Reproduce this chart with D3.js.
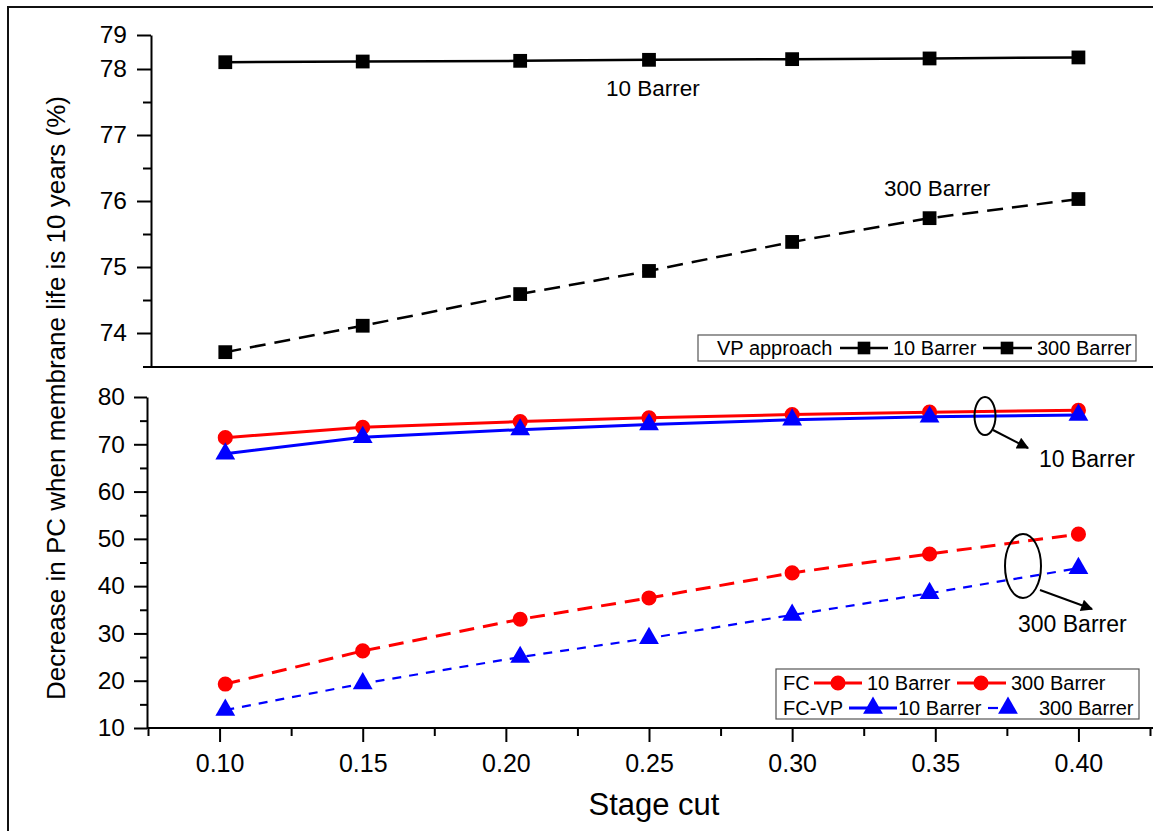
<!DOCTYPE html>
<html>
<head>
<meta charset="utf-8">
<script src="https://cdn.jsdelivr.net/npm/d3@7/dist/d3.min.js"></script>
<style>
body { margin: 0; background: #fff; }
svg text { font-family: 'Liberation Sans', Arial, sans-serif; fill: #000; }
</style>
</head>
<body>
<div id="chart"></div>
<script>
'use strict';

// stage cut values (x) and the series
var stageCut = [0.102, 0.15, 0.205, 0.25, 0.30, 0.348, 0.40];
var vp10 = [78.20, 78.22, 78.24, 78.27, 78.29, 78.31, 78.34];
var vp300 = [73.71, 74.11, 74.59, 74.94, 75.38, 75.74, 76.03];
var fc10 = [71.4, 73.6, 74.8, 75.6, 76.3, 76.8, 77.2];
var fc300 = [19.3, 26.3, 33.0, 37.5, 42.8, 46.8, 51.0];
var fcvp10 = [68.0, 71.5, 73.1, 74.2, 75.2, 75.8, 76.2];
var fcvp300 = [13.8, 19.4, 25.0, 29.0, 33.9, 38.5, 43.8];

// ticks
var xTicks = [0.10, 0.15, 0.20, 0.25, 0.30, 0.35, 0.40];
var xMinor = [0.075, 0.125, 0.175, 0.225, 0.275, 0.325, 0.375, 0.425];
var topTicks = [74, 75, 76, 77, 78, 79];
var topMinor = [74.5, 75.5, 76.5, 77.5];
var botTicks = [10, 20, 30, 40, 50, 60, 70, 80];
var botMinor = [15, 25, 35, 45, 55, 65, 75];

var W = 1156, H = 831;

var svg = d3.select('#chart').append('svg')
	.attr('width', W)
	.attr('height', H);

svg.append('rect').attr('width', W).attr('height', H).attr('fill', '#fff');

// arrow head
svg.append('defs').append('marker')
	.attr('id', 'arrow')
	.attr('viewBox', '0 0 10 10')
	.attr('refX', 9).attr('refY', 5)
	.attr('markerWidth', 9).attr('markerHeight', 6)
	.attr('markerUnits', 'strokeWidth')
	.attr('orient', 'auto')
	.append('path').attr('d', 'M0,0L10,5L0,10Z').attr('fill', '#000');

// outer frame (top + left edges only visible)
svg.append('path')
	.attr('d', 'M8,831V7H1153')
	.attr('fill', 'none').attr('stroke', '#111').attr('stroke-width', 2);

var x = d3.scaleLinear().domain([0.075, 0.425]).range([148, 1150]);
var yTop = d3.scaleLinear().domain([73.485, 78, 79]).range([367, 69, 35]);
var yBot = d3.scaleLinear().domain([10, 80]).range([728, 397]);

function styleAxis(g, fs) {
	g.selectAll('path, line').attr('stroke', '#000').attr('stroke-width', 2);
	g.selectAll('text').attr('font-size', fs || 24).attr('fill', '#000')
		.style('font-family', "'Liberation Sans', Arial, sans-serif");
}

//Top panel axes
var topAxis = svg.append('g').attr('transform', 'translate(151,0)')
	.call(d3.axisLeft(yTop).tickValues(topTicks).tickSize(14).tickSizeOuter(0)
		.tickPadding(10).tickFormat(d3.format('d')));
styleAxis(topAxis, 24.5);
var topMinorAxis = svg.append('g').attr('transform', 'translate(151,0)')
	.call(d3.axisLeft(yTop).tickValues(topMinor).tickSize(8).tickFormat(''));
topMinorAxis.select('.domain').remove();
styleAxis(topMinorAxis);

svg.append('line')
	.attr('x1', 143).attr('x2', 1153).attr('y1', 367).attr('y2', 367)
	.attr('stroke', '#000').attr('stroke-width', 2);

//Bottom panel axes
var botAxis = svg.append('g').attr('transform', 'translate(147,0)')
	.call(d3.axisLeft(yBot).tickValues(botTicks).tickSize(13).tickSizeOuter(0)
		.tickPadding(9).tickFormat(d3.format('d')));
styleAxis(botAxis, 24.5);
var botMinorAxis = svg.append('g').attr('transform', 'translate(147,0)')
	.call(d3.axisLeft(yBot).tickValues(botMinor).tickSize(7).tickFormat(''));
botMinorAxis.select('.domain').remove();
styleAxis(botMinorAxis);

var xAxis = svg.append('g').attr('transform', 'translate(0,728)')
	.call(d3.axisBottom(x).tickValues(xTicks).tickSize(14).tickSizeOuter(0)
		.tickPadding(12).tickFormat(d3.format('.2f')));
xAxis.select('.domain').attr('d', 'M147,0H1153');
styleAxis(xAxis, 25);
var xMinorAxis = svg.append('g').attr('transform', 'translate(0,728)')
	.call(d3.axisBottom(x).tickValues(xMinor).tickSize(8).tickFormat(''));
xMinorAxis.select('.domain').remove();
styleAxis(xMinorAxis);

// axis titles
svg.append('text')
	.attr('x', 654).attr('y', 815)
	.attr('text-anchor', 'middle')
	.attr('font-size', 31)
	.text('Stage cut');

svg.append('text')
	.attr('transform', 'translate(65,398) rotate(-90)')
	.attr('text-anchor', 'middle')
	.attr('font-size', 26)
	.text('Decrease in PC when membrane life is 10 years (%)');

// series
var series = [
	{vals: vp10, y: yTop, color: '#000', width: 2.5, dash: null, sym: d3.symbolSquare, size: 190},
	{vals: vp300, y: yTop, color: '#000', width: 2.5, dash: '16,9', sym: d3.symbolSquare, size: 190},
	{vals: fc10, y: yBot, color: '#ff0000', width: 3, dash: null, sym: d3.symbolCircle, size: 180},
	{vals: fcvp10, y: yBot, color: '#0000ff', width: 3, dash: null, sym: d3.symbolTriangle, size: 170},
	{vals: fc300, y: yBot, color: '#ff0000', width: 3, dash: '15,9', sym: d3.symbolCircle, size: 180},
	{vals: fcvp300, y: yBot, color: '#0000ff', width: 2.2, dash: '9,8', sym: d3.symbolTriangle, size: 170}
];

series.forEach(function(s) {
	var line = d3.line()
		.x(function(d, i) { return x(stageCut[i]); })
		.y(function(d) { return s.y(d); });
	svg.append('path')
		.datum(s.vals)
		.attr('d', line)
		.attr('fill', 'none')
		.attr('stroke', s.color)
		.attr('stroke-width', s.width)
		.attr('stroke-dasharray', s.dash);
	svg.selectAll(null)
		.data(s.vals)
		.enter()
		.append('path')
		.attr('transform', function(d, i) { return 'translate(' + x(stageCut[i]) + ',' + s.y(d) + ')'; })
		.attr('d', d3.symbol().type(s.sym).size(s.size))
		.attr('fill', s.color);
});

// annotations
svg.append('text').attr('x', 606).attr('y', 96).attr('font-size', 22.5).text('10 Barrer');
svg.append('text').attr('x', 884).attr('y', 196).attr('font-size', 22.5).text('300 Barrer');

svg.append('ellipse').attr('cx', 985).attr('cy', 416).attr('rx', 10.5).attr('ry', 19)
	.attr('fill', 'none').attr('stroke', '#000').attr('stroke-width', 2);
svg.append('line').attr('x1', 993).attr('y1', 430).attr('x2', 1028).attr('y2', 448)
	.attr('stroke', '#000').attr('stroke-width', 2).attr('marker-end', 'url(#arrow)');
svg.append('text').attr('x', 1039).attr('y', 467).attr('font-size', 23).text('10 Barrer');

svg.append('ellipse').attr('cx', 1023).attr('cy', 566).attr('rx', 18).attr('ry', 32)
	.attr('fill', 'none').attr('stroke', '#000').attr('stroke-width', 2);
svg.append('line').attr('x1', 1040).attr('y1', 590).attr('x2', 1092).attr('y2', 609)
	.attr('stroke', '#000').attr('stroke-width', 2).attr('marker-end', 'url(#arrow)');
svg.append('text').attr('x', 1018).attr('y', 632).attr('font-size', 23).text('300 Barrer');

// legends
function legendItem(g, x0, x1, xm, yy, s) {
	g.append('line').attr('x1', x0).attr('x2', x1).attr('y1', yy).attr('y2', yy)
		.attr('stroke', s.color).attr('stroke-width', s.width);
	g.append('path')
		.attr('transform', 'translate(' + xm + ',' + yy + ')')
		.attr('d', d3.symbol().type(s.sym).size(s.size))
		.attr('fill', s.color);
}

var vpLeg = svg.append('g');
vpLeg.append('rect').attr('x', 698).attr('y', 335).attr('width', 438).attr('height', 26)
	.attr('fill', '#fff').attr('stroke', '#555').attr('stroke-width', 1.2);
vpLeg.append('text').attr('x', 717).attr('y', 355).attr('font-size', 20).text('VP approach');
legendItem(vpLeg, 840, 888, 864, 348, {color: '#000', width: 2.5, sym: d3.symbolSquare, size: 160});
vpLeg.append('text').attr('x', 893).attr('y', 355).attr('font-size', 20).text('10 Barrer');
legendItem(vpLeg, 983, 1032, 1007, 348, {color: '#000', width: 2.5, sym: d3.symbolSquare, size: 160});
vpLeg.append('text').attr('x', 1037).attr('y', 355).attr('font-size', 20).text('300 Barrer');

var fcLeg = svg.append('g');
fcLeg.append('rect').attr('x', 776).attr('y', 669).attr('width', 363).attr('height', 50)
	.attr('fill', '#fff').attr('stroke', '#555').attr('stroke-width', 1.2);
fcLeg.append('text').attr('x', 783).attr('y', 690).attr('font-size', 20).text('FC');
legendItem(fcLeg, 814, 862, 838, 683, series[2]);
fcLeg.append('text').attr('x', 867).attr('y', 690).attr('font-size', 20).text('10 Barrer');
legendItem(fcLeg, 957, 1006, 981, 683, series[4]);
fcLeg.append('text').attr('x', 1011).attr('y', 690).attr('font-size', 20).text('300 Barrer');
fcLeg.append('text').attr('x', 783).attr('y', 715).attr('font-size', 20).text('FC-VP');
legendItem(fcLeg, 849, 897, 873, 708, series[3]);
fcLeg.append('text').attr('x', 898).attr('y', 715).attr('font-size', 20).text('10 Barrer');
legendItem(fcLeg, 988, 998, 1008, 708, series[5]);
fcLeg.append('text').attr('x', 1039).attr('y', 715).attr('font-size', 20).text('300 Barrer');
</script>
</body>
</html>
